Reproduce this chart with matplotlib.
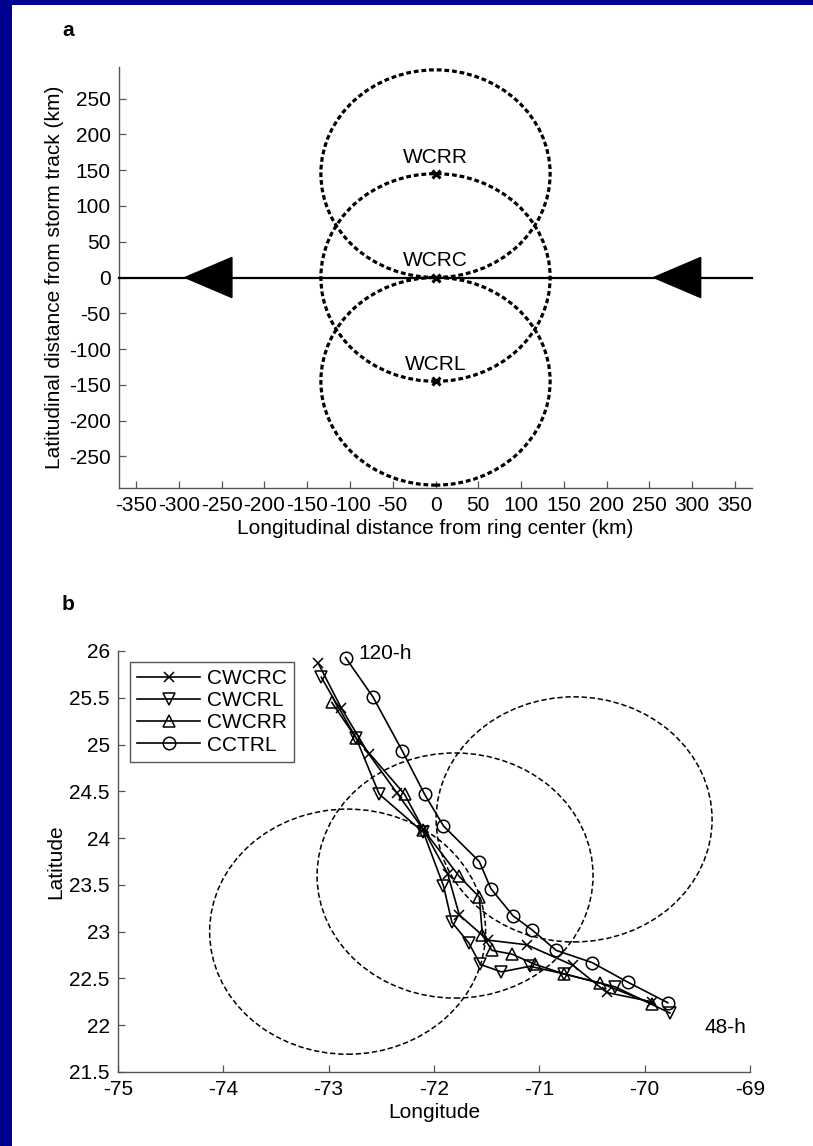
import numpy as np
import matplotlib
matplotlib.use('Agg')
import matplotlib.pyplot as plt
from matplotlib.patches import Rectangle, Ellipse, Polygon

plt.rcParams['font.family'] = ['Liberation Sans', 'DejaVu Sans']
plt.rcParams['axes.unicode_minus'] = False

# ---------------- Panel a data ----------------
ring_names = ['WCRR', 'WCRC', 'WCRL']
ring_x_km = [0, 0, 0]
ring_y_km = [145, 0, -145]
ring_rx_km = 134
ring_ry_km = 145
track_x_km = [-370, 370]
track_y_km = [0, 0]
arrow_tip_km = [-293, 255]
arrow_len_km = 55
arrow_half_km = 28
a_xticks = list(range(-350, 351, 50))
a_yticks = list(range(-250, 251, 50))

# ---------------- Panel b data ----------------
circle_lon = [-72.82, -71.80, -70.67]
circle_lat = [23.00, 23.60, 24.20]
circle_r = 1.31

cwcrc_lon = [-73.10, -72.88, -72.62, -72.35, -72.10, -71.87, -71.76, -71.49, -71.12, -70.68, -70.36, -69.93]
cwcrc_lat = [25.87, 25.39, 24.90, 24.48, 24.09, 23.62, 23.18, 22.91, 22.86, 22.64, 22.35, 22.25]
cwcrl_lon = [-73.07, -72.74, -72.52, -72.10, -71.91, -71.83, -71.67, -71.56, -71.36, -71.09, -70.77, -70.28, -69.76]
cwcrl_lat = [25.72, 25.07, 24.47, 24.06, 23.49, 23.10, 22.88, 22.65, 22.57, 22.63, 22.55, 22.41, 22.13]
cwcrr_lon = [-72.97, -72.74, -72.28, -72.10, -71.76, -71.57, -71.54, -71.45, -71.26, -71.04, -70.77, -70.42, -69.93]
cwcrr_lat = [25.45, 25.07, 24.47, 24.09, 23.59, 23.37, 22.96, 22.80, 22.76, 22.65, 22.55, 22.45, 22.23]
cctrl_lon = [-72.84, -72.58, -72.30, -72.09, -71.91, -71.57, -71.46, -71.25, -71.07, -70.84, -70.50, -70.16, -69.78]
cctrl_lat = [25.93, 25.51, 24.93, 24.47, 24.13, 23.75, 23.46, 23.17, 23.02, 22.80, 22.67, 22.46, 22.24]
b_xticks = [-75, -74, -73, -72, -71, -70, -69]
b_yticks = [21.5, 22, 22.5, 23, 23.5, 24, 24.5, 25, 25.5, 26]
b_yticklabels = ['21.5', '22', '22.5', '23', '23.5', '24', '24.5', '25', '25.5', '26']

W, H = 813, 1146
fig = plt.figure(figsize=(W / 100, H / 100), dpi=100)
fig.patch.set_facecolor('#000091')
bg = Rectangle((12 / W, 0), 1 - 12 / W, 1 - 5 / H, transform=fig.transFigure,
               facecolor='white', edgecolor='none', zorder=-10)
fig.patches.append(bg)

FS = 15
spine_col = '#555555'


def style_axes(ax):
    for s in ['top', 'right']:
        ax.spines[s].set_visible(False)
    for s in ['left', 'bottom']:
        ax.spines[s].set_color(spine_col)
        ax.spines[s].set_linewidth(1.0)
    ax.tick_params(direction='in', length=5, width=0.9, color=spine_col,
                   labelsize=FS, pad=6)
    ax.set_facecolor('none')


def fig_axes(left, top, right, bottom):
    ax = fig.add_axes([left / W, 1 - bottom / H, (right - left) / W, (bottom - top) / H])
    ax.set_zorder(5)
    return ax

# ---------------- Panel a ----------------
ax1 = fig_axes(119, 67, 752, 488)
style_axes(ax1)
ax1.plot(track_x_km, track_y_km, color='black', lw=1.6, zorder=3, clip_on=False)
for tip in arrow_tip_km:
    ax1.add_patch(Polygon([(tip, 0), (tip + arrow_len_km, arrow_half_km),
                           (tip + arrow_len_km, -arrow_half_km)],
                          closed=True, facecolor='black', edgecolor='black', zorder=4))
for name, cx, cy in zip(ring_names, ring_x_km, ring_y_km):
    ax1.add_patch(Ellipse((cx, cy), 2 * ring_rx_km, 2 * ring_ry_km, fill=False,
                          edgecolor='black', lw=2.3, linestyle=(0, (1.5, 0.9)), zorder=2))
    ax1.plot([cx], [cy], marker='x', color='black', ms=6, mew=2.2, zorder=5)
    ax1.text(cx, cy + 10, name, ha='center', va='bottom', fontsize=FS, zorder=6)
ax1.set_xlim(-370, 370)
ax1.set_ylim(-294, 294)
ax1.set_xticks(a_xticks)
ax1.set_yticks(a_yticks)
ax1.set_xlabel('Longitudinal distance from ring center (km)', fontsize=FS, labelpad=3)
ax1.set_ylabel('Latitudinal distance from storm track (km)', fontsize=FS, labelpad=3)
fig.text(62 / W, 1 - 30 / H, 'a', fontsize=FS, fontweight='bold', va='center', ha='left')

# ---------------- Panel b ----------------
ax2 = fig_axes(118, 651, 750, 1072)
style_axes(ax2)
for cx, cy in zip(circle_lon, circle_lat):
    ax2.add_patch(Ellipse((cx, cy), 2 * circle_r, 2 * circle_r, fill=False,
                          edgecolor='black', lw=1.1, linestyle=(0, (3.5, 1.8)), zorder=2))
common = dict(color='black', lw=1.2, mfc='none', mec='black', mew=1.1, zorder=3)
ax2.plot(cwcrc_lon, cwcrc_lat, marker='x', ms=7, label='CWCRC', **common)
ax2.plot(cwcrl_lon, cwcrl_lat, marker='v', ms=9, label='CWCRL', **common)
ax2.plot(cwcrr_lon, cwcrr_lat, marker='^', ms=9, label='CWCRR', **common)
ax2.plot(cctrl_lon, cctrl_lat, marker='o', ms=9, label='CCTRL', **common)
ax2.text(cctrl_lon[0] + 0.12, cctrl_lat[0] + 0.04, '120-h', fontsize=FS, ha='left', va='center')
ax2.text(cwcrl_lon[-1] + 0.33, cwcrl_lat[-1] - 0.15, '48-h', fontsize=FS, ha='left', va='center')
ax2.set_xlim(-75, -69)
ax2.set_ylim(21.5, 26)
ax2.set_xticks(b_xticks)
ax2.set_xticklabels([str(v) for v in b_xticks])
ax2.set_yticks(b_yticks)
ax2.set_yticklabels(b_yticklabels)
ax2.set_xlabel('Longitude', fontsize=FS, labelpad=3)
ax2.set_ylabel('Latitude', fontsize=FS, labelpad=3)
leg = ax2.legend(loc='upper left', bbox_to_anchor=(0.019, 0.974), borderaxespad=0,
                 fontsize=FS, handlelength=3.0, labelspacing=0.15, handletextpad=0.35,
                 borderpad=0.35, fancybox=False, framealpha=1)
leg.get_frame().set_edgecolor('#555555')
leg.get_frame().set_linewidth(1.0)
fig.text(62 / W, 1 - 605 / H, 'b', fontsize=FS, fontweight='bold', va='center', ha='left')

fig.savefig('out.png', dpi=100, facecolor=fig.get_facecolor())
